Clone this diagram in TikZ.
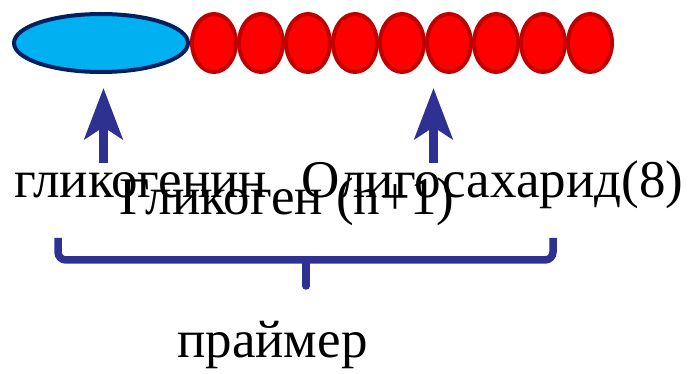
\documentclass[tikz,border=0pt]{standalone}
\usepackage{fontspec}
\setmainfont{Liberation Serif}
\usetikzlibrary{shapes.geometric,arrows.meta}
\definecolor{glblue}{HTML}{00B0F0}
\definecolor{glnavy}{HTML}{002060}
\definecolor{olred}{HTML}{FF0000}
\definecolor{oldred}{HTML}{C00000}
\definecolor{arrblue}{HTML}{2E3192}
\tikzset{
  x=1pt, y=-1pt,
  glyco/.style={ellipse, draw=glnavy, fill=glblue, line width=4pt, minimum width=174pt, minimum height=58pt, inner sep=0pt},
  sugar/.style={ellipse, draw=oldred, fill=olred, line width=4pt, minimum width=44pt, minimum height=58pt, inner sep=0pt},
  lbl/.style={anchor=base west, inner sep=0pt, font=\fontsize{53}{60}\selectfont},
  uparrow/.style={draw=arrblue, line width=9pt, -{Stealth[length=51pt, width=38pt, inset=12pt, fill=arrblue]}},
  bracket/.style={draw=arrblue, line width=7.5pt, rounded corners=8pt}
}
\begin{document}
\begin{tikzpicture}
\useasboundingbox (0,0) rectangle (689,374);
% chain
\node[glyco] (gn) at (101,43) {};
\foreach \i in {0,...,8} {
  \node[sugar] (s\i) at (214+47*\i,43) {};
}
% labels
\node[lbl] (tgn) at (14,198) {гликогенин};
\node[lbl] (tol) at (301,198) {Олигосахарид(8)};
\node[lbl] (tgl) at (119,215) {Гликоген (n+1)};
\node[lbl] (tpr) at (177,358) {праймер};
% arrows
\coordinate (a1s) at (103.5,163);
\coordinate (a1t) at (103.5,88);
\coordinate (a2s) at (433.5,163);
\coordinate (a2t) at (433.5,88);
\draw[uparrow] (a1s) -- (a1t);
\draw[uparrow] (a2s) -- (a2t);
% bracket
\coordinate (bl) at (58,238);
\coordinate (br) at (553,238);
\coordinate (bm) at (306,260);
\coordinate (bt) at (306,286);
\draw[bracket] (bl) |- (bm) -| (br);
\draw[bracket, line cap=round] (bm) -- (bt);
\end{tikzpicture}
\end{document}
